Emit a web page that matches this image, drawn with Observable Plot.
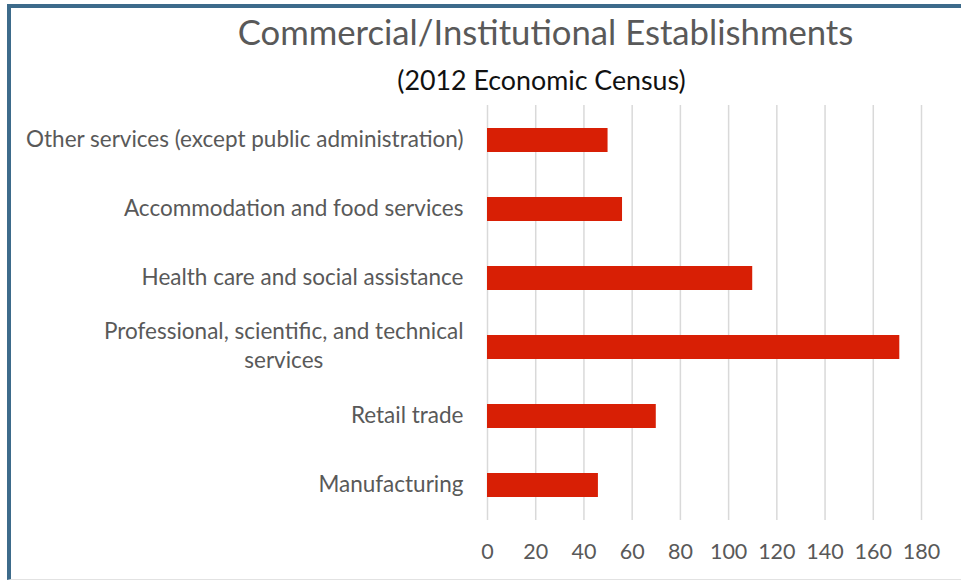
<!DOCTYPE html>
<html>
<head>
<meta charset="utf-8">
<script src="https://cdn.jsdelivr.net/npm/d3@7"></script>
<script src="https://cdn.jsdelivr.net/npm/@observablehq/plot@0.6"></script>
<style>
  body { margin: 0; background: #fff; font-family: Lato, sans-serif; }
  #wrap { position: relative; width: 961px; height: 580px; overflow: hidden; background: #fff; }
  #frame { position: absolute; left: 7px; top: 4px; right: -10px; bottom: 0; border-top: 4px solid #3d6b8b; border-left: 4px solid #3d6b8b; border-bottom: 1px solid #e2e2e2; pointer-events: none; z-index: 2; }
  .ttl { position: absolute; left: 0; width: 961px; box-sizing: border-box; text-align: center; white-space: nowrap; }
  #title { top: 10px; height: 44px; line-height: 44px; font-size: 34.7px; color: #595959; padding-left: 130px; }
  #subtitle { top: 62px; height: 36px; line-height: 36px; font-size: 26.8px; color: #111; padding-left: 122px; }
  #chart { position: absolute; left: 0; top: 98px; }
</style>
</head>
<body>
<div id="wrap">
  <div id="frame"></div>
  <div id="title" class="ttl">Commercial/Institutional Establishments</div>
  <div id="subtitle" class="ttl">(2012 Economic Census)</div>
  <div id="chart"></div>
</div>
<script>
const categories = [
  "Other services (except public administration)",
  "Accommodation and food services",
  "Health care and social assistance",
  "Professional, scientific, and technical services",
  "Retail trade",
  "Manufacturing"
];
const labels = [
  "Other services (except public administration)",
  "Accommodation and food services",
  "Health care and social assistance",
  "Professional, scientific, and technical\nservices",
  "Retail trade",
  "Manufacturing"
];
const values = [50, 56, 110, 171, 70, 46];
const xTicks = [0, 20, 40, 60, 80, 100, 120, 140, 160, 180];

const data = categories.map((c, i) => ({category: c, value: values[i]}));

const chart = Plot.plot({
  width: 961,
  height: 482,
  marginTop: 7,
  marginBottom: 60,
  marginLeft: 487,
  marginRight: 40,
  style: {fontFamily: "Lato, sans-serif", background: "white", overflow: "visible"},
  x: {domain: [0, 180]},
  y: {domain: categories, paddingInner: 0.653, paddingOuter: 0.32},
  marks: [
    Plot.gridX(xTicks, {stroke: "#d9d9d9", strokeOpacity: 1, strokeWidth: 1.5}),
    Plot.barX(data, {y: "category", x: "value", fill: "#d81f05"}),
    Plot.axisX(xTicks, {tickSize: 0, tickPadding: 23, fontSize: 21.5, color: "#595959", label: null}),
    Plot.axisY({tickSize: 0, tickPadding: 24, fontSize: 22.5, color: "#595959", lineHeight: 1.29, dy: -3,
                tickFormat: c => labels[categories.indexOf(c)], label: null})
  ]
});
document.getElementById("chart").appendChild(chart);

// center the second line of wrapped labels under the first (as in the source)
d3.select(chart).selectAll("text").each(function() {
  const spans = this.querySelectorAll("tspan");
  if (spans.length > 1) {
    const w1 = spans[0].getComputedTextLength();
    for (let k = 1; k < spans.length; k++) {
      const w = spans[k].getComputedTextLength();
      const x0 = +(spans[k].getAttribute("x") || 0);
      spans[k].setAttribute("x", x0 - (w1 - w) / 2);
    }
  }
});
</script>
</body>
</html>
